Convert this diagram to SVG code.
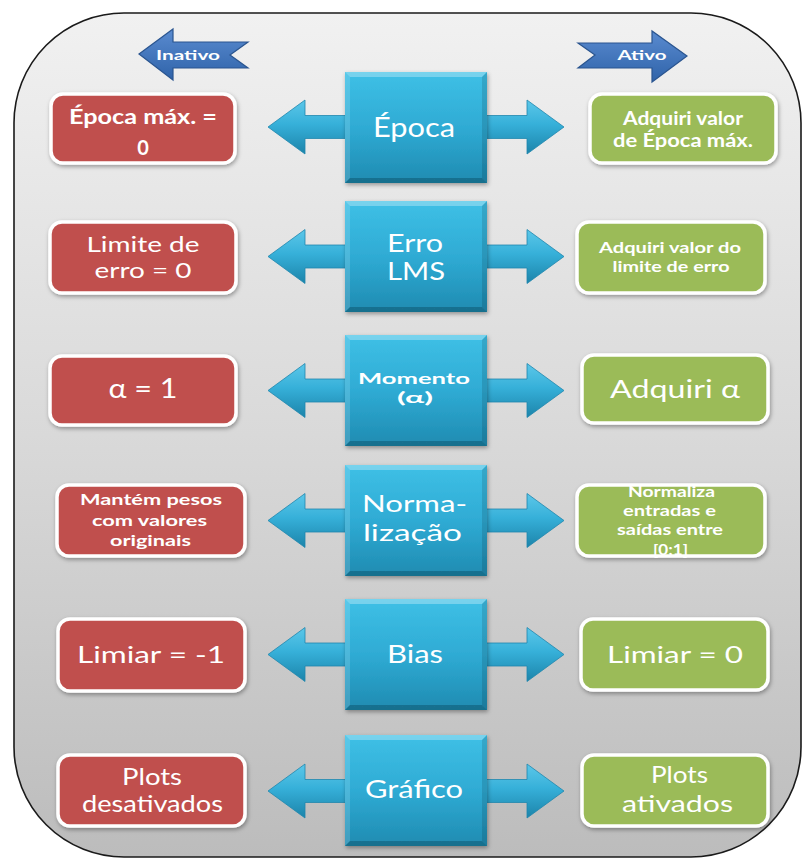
<svg xmlns="http://www.w3.org/2000/svg" xmlns:xlink="http://www.w3.org/1999/xlink" width="803" height="859" viewBox="0 0 803 859">
  <style>
    .t { fill: #ffffff; font-family: Lato, "Liberation Sans", "DejaVu Sans", sans-serif; text-anchor: middle; }
    .b { font-weight: 700; }
    .red { fill: #c0504d; stroke: #ffffff; stroke-width: 3.5; filter: url(#soft); }
    .green { fill: #9bbb59; stroke: #ffffff; stroke-width: 3.5; filter: url(#soft); }
    .tag { fill: url(#tagFill); stroke: #2a5590; stroke-width: 1.2; }
    .dbl { fill: url(#arrowFill); stroke: #1f87ad; stroke-width: 0.8; }
  </style>
  <defs>
    <linearGradient id="frameFill" x1="0" y1="0" x2="0" y2="1">
      <stop offset="0" stop-color="#f1f1f1"/>
      <stop offset="0.5" stop-color="#d9d9d9"/>
      <stop offset="1" stop-color="#bcbcbc"/>
    </linearGradient>
    <linearGradient id="cubeFill" x1="0" y1="0" x2="0" y2="1">
      <stop offset="0" stop-color="#3ec0e6"/>
      <stop offset="0.5" stop-color="#2fabd4"/>
      <stop offset="1" stop-color="#1f8bb1"/>
    </linearGradient>
    <linearGradient id="arrowFill" x1="0" y1="0" x2="0" y2="1">
      <stop offset="0" stop-color="#5cc7e9"/>
      <stop offset="0.45" stop-color="#36b0d9"/>
      <stop offset="1" stop-color="#1c84aa"/>
    </linearGradient>
    <linearGradient id="tagFill" x1="0" y1="0" x2="0" y2="1">
      <stop offset="0" stop-color="#5a8bd0"/>
      <stop offset="1" stop-color="#2f63a9"/>
    </linearGradient>
    <filter id="soft" x="-10%" y="-15%" width="125%" height="145%">
      <feDropShadow dx="1" dy="2" stdDeviation="2" flood-color="#000000" flood-opacity="0.35"/>
    </filter>
    <!-- bevelled blue block, 142 x 111 -->
    <g id="cube">
      <rect width="142" height="111" fill="url(#cubeFill)"/>
      <path d="M0,0H142L137,5H5Z" fill="#ffffff" opacity="0.3"/>
      <path d="M0,0L5,5V106L0,111Z" fill="#ffffff" opacity="0.15"/>
      <path d="M142,0V111L137,106V5Z" fill="#000000" opacity="0.12"/>
      <path d="M0,111H142L137,106H5Z" fill="#000000" opacity="0.2"/>
    </g>
    <!-- two-headed arrow centred on y = 0 -->
    <path id="dbl" d="M268,0L305,-27L305,-11.5L527,-11.5L527,-27L564,0L527,27L527,11.5L305,11.5L305,27Z"/>
  </defs>

  <!-- panel -->
  <rect id="panel" x="14" y="13" width="787" height="844" rx="110" ry="110" fill="url(#frameFill)" stroke="#1a1a1a" stroke-width="1.6"/>

  <!-- state labels -->
  <g id="inativo">
    <polygon class="tag" points="139,54 173,29 173,42 248,42 230,55 248,68 173,68 173,80"/>
    <text class="t b" x="188" y="60" font-size="14" textLength="64" lengthAdjust="spacingAndGlyphs">Inativo</text>
  </g>
  <g id="ativo">
    <polygon class="tag" points="578,43 652,43 652,31 687,56 652,82 652,68 578,68 595,55"/>
    <text class="t b" x="642" y="60" font-size="14" textLength="49" lengthAdjust="spacingAndGlyphs">Ativo</text>
  </g>

  <!-- connectors -->
  <g id="connectors">
    <use xlink:href="#dbl" class="dbl" transform="translate(0,127)"/>
    <use xlink:href="#dbl" class="dbl" transform="translate(0,256.5)"/>
    <use xlink:href="#dbl" class="dbl" transform="translate(0,390.5)"/>
    <use xlink:href="#dbl" class="dbl" transform="translate(0,520.5)"/>
    <use xlink:href="#dbl" class="dbl" transform="translate(0,654.5)"/>
    <use xlink:href="#dbl" class="dbl" transform="translate(0,791)"/>
  </g>

  <!-- row 1 -->
  <g id="epoca">
    <use xlink:href="#cube" x="345" y="72" filter="url(#soft)"/>
    <text class="t" x="414" y="137" font-size="27" textLength="82" lengthAdjust="spacingAndGlyphs">Época</text>
  </g>
  <g id="epoca-off">
    <rect class="red" x="51" y="94" width="184" height="69" rx="12"/>
    <text class="t b" x="143" y="124" font-size="20" textLength="148" lengthAdjust="spacingAndGlyphs">Época máx. =</text>
    <text class="t b" x="143" y="155" font-size="20">0</text>
  </g>
  <g id="epoca-on">
    <rect class="green" x="590" y="94" width="186" height="69" rx="12"/>
    <text class="t b" x="683" y="125" font-size="18" textLength="120" lengthAdjust="spacingAndGlyphs">Adquiri valor</text>
    <text class="t b" x="683" y="147" font-size="18" textLength="140" lengthAdjust="spacingAndGlyphs">de Época máx.</text>
  </g>

  <!-- row 2 -->
  <g id="erro">
    <use xlink:href="#cube" x="345" y="201" filter="url(#soft)"/>
    <text class="t" x="415" y="252" font-size="25" textLength="56" lengthAdjust="spacingAndGlyphs">Erro</text>
    <text class="t" x="416" y="280" font-size="25" textLength="58" lengthAdjust="spacingAndGlyphs">LMS</text>
  </g>
  <g id="erro-off">
    <rect class="red" x="50" y="222" width="186" height="71" rx="12"/>
    <text class="t" x="143" y="252" font-size="22" textLength="113" lengthAdjust="spacingAndGlyphs">Limite de</text>
    <text class="t" x="143" y="278" font-size="22" textLength="97" lengthAdjust="spacingAndGlyphs">erro = 0</text>
  </g>
  <g id="erro-on">
    <rect class="green" x="577" y="222" width="188" height="71" rx="12"/>
    <text class="t b" x="670" y="253" font-size="15" textLength="142" lengthAdjust="spacingAndGlyphs">Adquiri valor do</text>
    <text class="t b" x="671" y="272" font-size="15" textLength="117" lengthAdjust="spacingAndGlyphs">limite de erro</text>
  </g>

  <!-- row 3 -->
  <g id="momento">
    <use xlink:href="#cube" x="345" y="335" filter="url(#soft)"/>
    <text class="t b" x="414" y="384" font-size="15" textLength="112" lengthAdjust="spacingAndGlyphs">Momento</text>
    <text class="t b" x="415" y="403" font-size="15" textLength="36" lengthAdjust="spacingAndGlyphs">(α)</text>
  </g>
  <g id="momento-off">
    <rect class="red" x="50" y="356" width="186" height="69" rx="12"/>
    <text class="t" x="143" y="398" font-size="27" textLength="69" lengthAdjust="spacingAndGlyphs">α = 1</text>
  </g>
  <g id="momento-on">
    <rect class="green" x="582" y="355" width="186" height="68" rx="12"/>
    <text class="t" x="675" y="398" font-size="25" textLength="130" lengthAdjust="spacingAndGlyphs">Adquiri α</text>
  </g>

  <!-- row 4 -->
  <g id="normalizacao">
    <use xlink:href="#cube" x="345" y="465" filter="url(#soft)"/>
    <text class="t" x="414.5" y="512" font-size="24" textLength="105" lengthAdjust="spacingAndGlyphs">Norma-</text>
    <text class="t" x="412.5" y="541" font-size="24" textLength="99" lengthAdjust="spacingAndGlyphs">lização</text>
  </g>
  <g id="normalizacao-off">
    <rect class="red" x="57" y="485" width="188" height="71" rx="12"/>
    <text class="t b" x="151" y="505" font-size="15" textLength="142" lengthAdjust="spacingAndGlyphs">Mantém pesos</text>
    <text class="t b" x="149.5" y="526" font-size="15" textLength="115" lengthAdjust="spacingAndGlyphs">com valores</text>
    <text class="t b" x="150.5" y="546" font-size="15" textLength="81" lengthAdjust="spacingAndGlyphs">originais</text>
  </g>
  <g id="normalizacao-on">
    <rect class="green" x="577" y="485" width="188" height="71" rx="12"/>
    <text class="t b" x="671.5" y="497" font-size="15" textLength="87" lengthAdjust="spacingAndGlyphs">Normaliza</text>
    <text class="t b" x="669.5" y="516" font-size="15" textLength="93" lengthAdjust="spacingAndGlyphs">entradas e</text>
    <text class="t b" x="670" y="535" font-size="15" textLength="106" lengthAdjust="spacingAndGlyphs">saídas entre</text>
    <text class="t b" x="670.5" y="555" font-size="15" textLength="35" lengthAdjust="spacingAndGlyphs">[0;1]</text>
  </g>

  <!-- row 5 -->
  <g id="bias">
    <use xlink:href="#cube" x="345" y="599" filter="url(#soft)"/>
    <text class="t" x="415" y="663" font-size="25" textLength="56" lengthAdjust="spacingAndGlyphs">Bias</text>
  </g>
  <g id="bias-off">
    <rect class="red" x="58" y="619" width="187" height="72" rx="12"/>
    <text class="t" x="151" y="663" font-size="24" textLength="148" lengthAdjust="spacingAndGlyphs">Limiar = -1</text>
  </g>
  <g id="bias-on">
    <rect class="green" x="581" y="619" width="187" height="71" rx="12"/>
    <text class="t" x="675" y="663" font-size="24" textLength="136" lengthAdjust="spacingAndGlyphs">Limiar = 0</text>
  </g>

  <!-- row 6 -->
  <g id="grafico">
    <use xlink:href="#cube" x="345" y="735" filter="url(#soft)"/>
    <text class="t" x="414" y="798" font-size="25" textLength="98" lengthAdjust="spacingAndGlyphs">Gráfico</text>
  </g>
  <g id="grafico-off">
    <rect class="red" x="58" y="755" width="187" height="71" rx="12"/>
    <text class="t" x="152" y="785" font-size="23" textLength="60" lengthAdjust="spacingAndGlyphs">Plots</text>
    <text class="t" x="152.5" y="812" font-size="23" textLength="141" lengthAdjust="spacingAndGlyphs">desativados</text>
  </g>
  <g id="grafico-on">
    <rect class="green" x="582" y="755" width="186" height="71" rx="12"/>
    <text class="t" x="679.5" y="783" font-size="23" textLength="57" lengthAdjust="spacingAndGlyphs">Plots</text>
    <text class="t" x="677.5" y="812" font-size="23" textLength="111" lengthAdjust="spacingAndGlyphs">ativados</text>
  </g>
</svg>
